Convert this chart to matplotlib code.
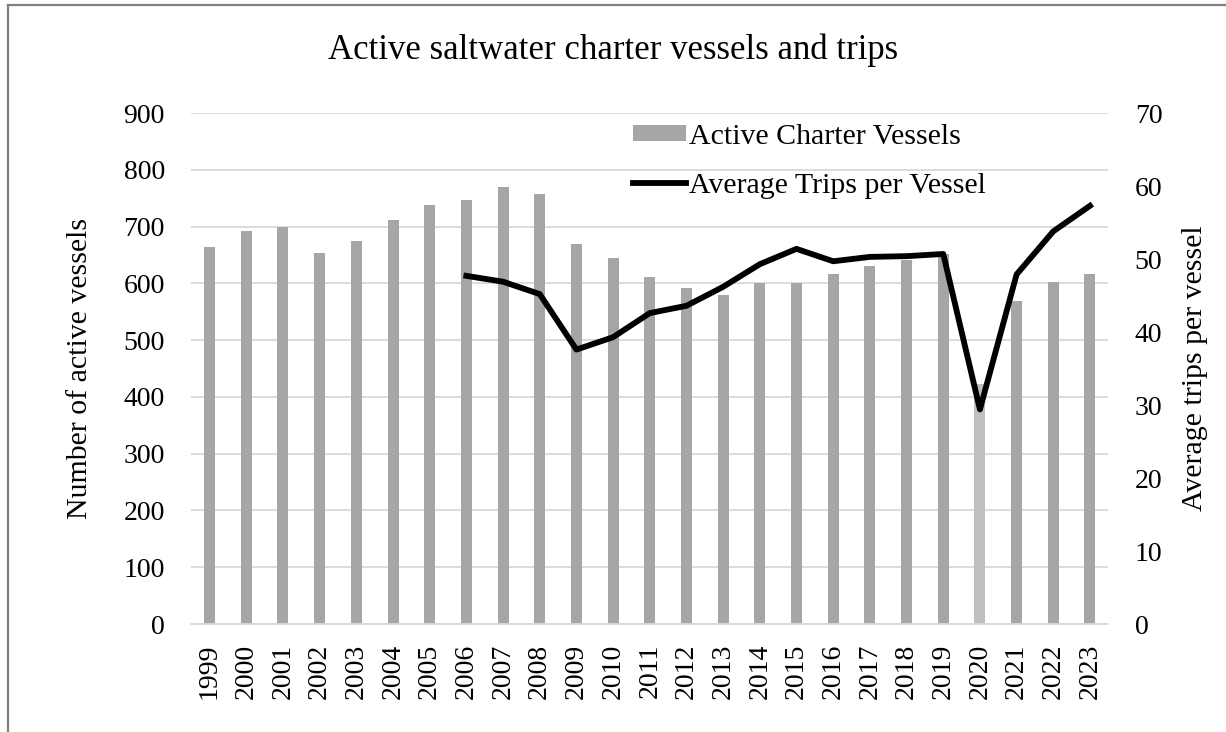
import matplotlib.pyplot as plt
import matplotlib.lines as mlines
import numpy as np

plt.rcParams['font.family'] = ['Liberation Serif', 'DejaVu Serif']

# data
years = [str(y) for y in range(1999, 2024)]
vessels = [664, 692, 699, 654, 675, 712, 738, 747, 769, 757, 670, 644, 611,
           592, 579, 601, 601, 617, 630, 642, 652, 423, 569, 603, 617]
trip_years = [str(y) for y in range(2006, 2024)]
trips = [47.7, 46.9, 45.2, 37.6, 39.3, 42.6, 43.6, 46.2, 49.3, 51.4, 49.7,
         50.3, 50.4, 50.7, 29.4, 47.9, 53.8, 57.3]

bar_colors = ['#a6a6a6'] * len(years)
bar_colors[years.index('2020')] = '#bfbfbf'

fig = plt.figure(figsize=(12.26, 7.32), dpi=100)
ax = fig.add_axes([0.156, 0.1475, 0.748, 0.698])

# chart frame (only left and top edges show in the reference)
fig.lines.append(mlines.Line2D([0.0065, 0.0065], [0, 0.9935], transform=fig.transFigure,
                               color='#808080', linewidth=1.6))
fig.lines.append(mlines.Line2D([0.0065, 1.0], [0.9935, 0.9935], transform=fig.transFigure,
                               color='#808080', linewidth=1.6))

x = np.arange(len(years))
bars = ax.bar(x, vessels, width=0.3, color=bar_colors, zorder=2, label='Active Charter Vessels')
ax.set_ylim(0, 900)
ax.set_yticks(range(0, 901, 100))
ax.set_xlim(-0.5, len(years) - 0.5)
ax.set_xticks(x)
ax.set_xticklabels(years, rotation=90)
ax.grid(axis='y', color='#d9d9d9', linewidth=1.3, zorder=0)
ax.set_axisbelow(True)
for s in ['top', 'right', 'left']:
    ax.spines[s].set_visible(False)
ax.spines['bottom'].set_color('#d9d9d9')
ax.spines['bottom'].set_linewidth(1.3)
ax.tick_params(axis='y', length=0, labelsize=20, pad=19)
ax.tick_params(axis='x', length=0, labelsize=20, pad=14)
ax.set_ylabel('Number of active vessels', fontsize=21.5, labelpad=22)

ax2 = ax.twinx()
tx = [years.index(y) for y in trip_years]
line, = ax2.plot(tx, trips, color='black', linewidth=4.2, zorder=3,
                 solid_joinstyle='round', label='Average Trips per Vessel')
ax2.set_ylim(0, 70)
ax2.set_yticks(range(0, 71, 10))
for s in ax2.spines.values():
    s.set_visible(False)
ax2.tick_params(length=0, labelsize=20, pad=19)
ax2.set_ylabel('Average trips per vessel', fontsize=21.5, labelpad=14)

ax2.legend([bars, line], ['Active Charter Vessels', 'Average Trips per Vessel'],
           loc='upper left', bbox_to_anchor=(0.482, 0.979), frameon=False, fontsize=21.5,
           handlelength=1.75, handletextpad=0.1, labelspacing=0.77, handleheight=0.45,
           borderpad=0, borderaxespad=0)

fig.text(0.5, 0.932, 'Active saltwater charter vessels and trips', ha='center', va='center', fontsize=25)

fig.savefig('out.png', dpi=100)
